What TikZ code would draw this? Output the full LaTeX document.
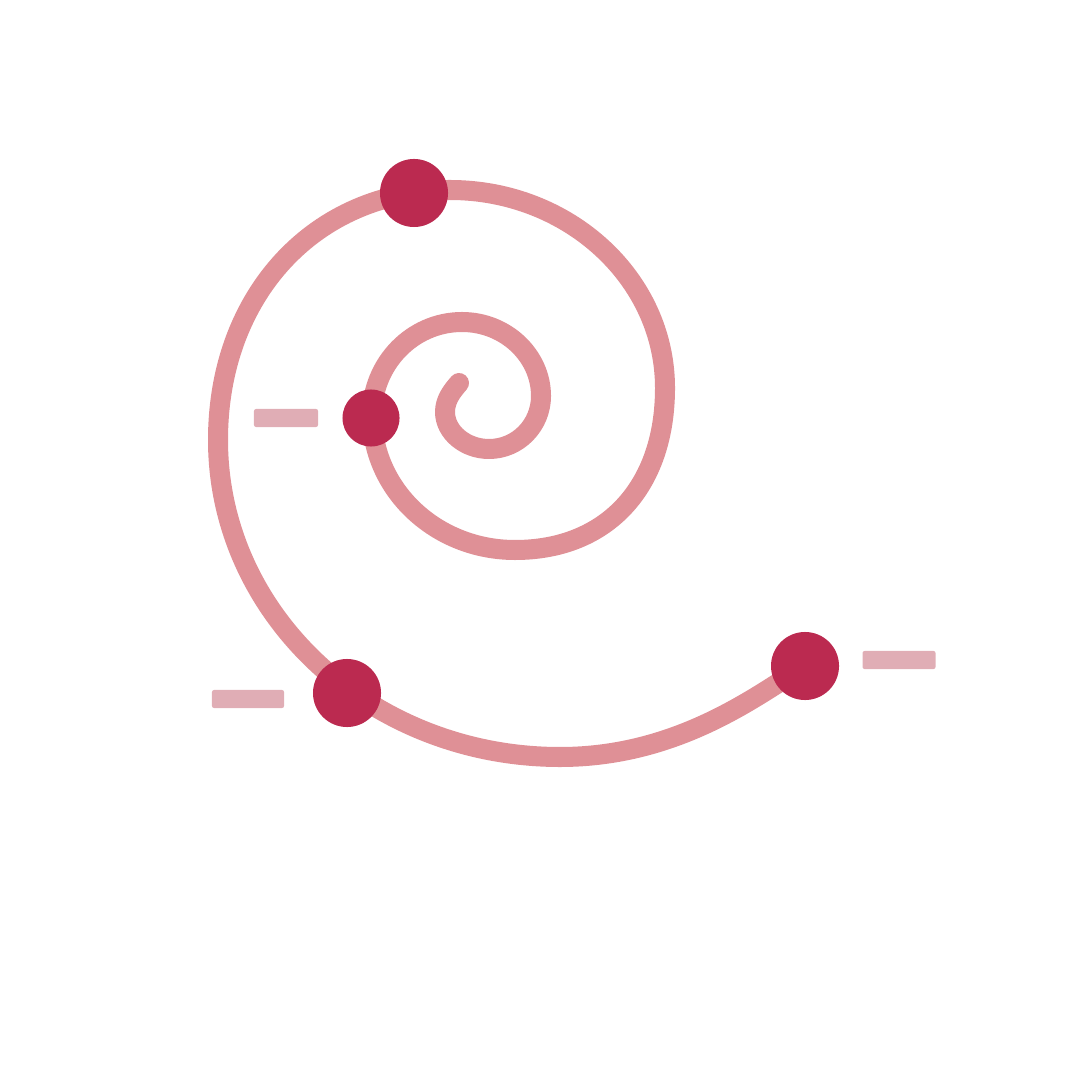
\documentclass[tikz,border=0pt]{standalone}
\definecolor{spiralc}{HTML}{DF9096}
\definecolor{dotc}{HTML}{BB2A50}
\definecolor{barc}{HTML}{E0ADB5}
\begin{document}
\begin{tikzpicture}[x=0.01cm,y=-0.01cm,
  spiral/.style={draw=spiralc,line width=0.2cm,line cap=round,line join=round},
  bigdot/.style={circle,fill=dotc,inner sep=0pt,minimum size=0.68cm},
  smalldot/.style={circle,fill=dotc,inner sep=0pt,minimum size=0.57cm},
  labelbar/.style={rectangle,fill=barc,rounded corners=0.02cm,inner sep=0pt,minimum height=0.18cm}]
\useasboundingbox (0,0) rectangle (1080,1080);
\coordinate (s) at (459,383);
\coordinate (l0) at (445,412);
\coordinate (b0) at (489,449);
\coordinate (r0) at (541,396);
\coordinate (t0) at (462,322);
\coordinate (l1) at (372,415);
\coordinate (b1) at (515,550);
\coordinate (r1) at (665,388);
\coordinate (t1) at (450,190);
\coordinate (l2) at (218,440);
\coordinate (bb2) at (560,757);
\coordinate (p1) at (414,193);
\coordinate (p2) at (371,418);
\coordinate (p3) at (347,693);
\coordinate (p4) at (805,666);
\draw[spiral] (s)
  .. controls (452,391) and (445,400) .. (l0)
  .. controls (445,432) and (465,449) .. (b0)
  .. controls (518,449) and (541,425) .. (r0)
  .. controls (541,356) and (506,322) .. (t0)
  .. controls (412,322) and (372,364) .. (l1)
  .. controls (372,490) and (436,550) .. (b1)
  .. controls (607,550) and (665,487) .. (r1)
  .. controls (665,279) and (569,190) .. (t1)
  .. controls (315,190) and (218,295) .. (l2)
  .. controls (218,615) and (371,757) .. (bb2)
  .. controls (680,757) and (760,693) .. (p4);
\node[bigdot] (d1) at (p1) {};
\node[smalldot] (d2) at (p2) {};
\node[bigdot] (d3) at (p3) {};
\node[bigdot] (d4) at (p4) {};
\node[labelbar,minimum width=0.64cm] (lb1) at (286,418) {};
\node[labelbar,minimum width=0.72cm] (lb2) at (248,699) {};
\node[labelbar,minimum width=0.73cm] (lb3) at (899,660) {};
\end{tikzpicture}
\end{document}
